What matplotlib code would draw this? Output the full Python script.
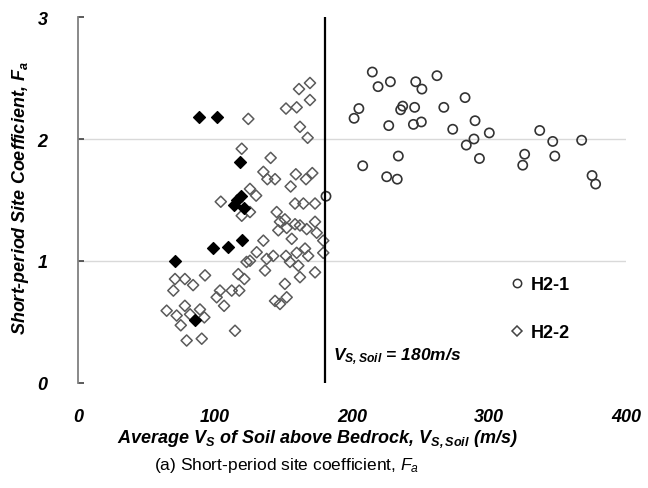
import matplotlib
matplotlib.use('Agg')
import matplotlib.pyplot as plt
from matplotlib.lines import Line2D

plt.rcParams['font.family'] = ['Liberation Sans', 'DejaVu Sans']
plt.rcParams['mathtext.fontset'] = 'custom'
plt.rcParams['mathtext.rm'] = 'Liberation Sans'
plt.rcParams['mathtext.it'] = 'Liberation Sans:italic'
plt.rcParams['mathtext.bf'] = 'Liberation Sans:bold'
plt.rcParams['mathtext.bfit'] = 'Liberation Sans:bold:italic'

# H2-1 sites (Vs,soil > 180 m/s)
h21_vs = [181, 214.8, 219, 228, 246.5, 251, 262, 282.5, 205, 201.5, 237, 235.5,
          245.7, 267, 226.8, 244.8, 250.6, 273.5, 289.8, 289, 283.4, 293, 233.8,
          207.8, 225.3, 233, 300.2, 337, 346.5, 367.6, 326, 324.6, 348, 375.2, 377.8]
h21_fa = [1.53, 2.55, 2.43, 2.47, 2.47, 2.41, 2.52, 2.34, 2.25, 2.17, 2.27, 2.24,
          2.26, 2.26, 2.11, 2.12, 2.14, 2.08, 2.15, 2.0, 1.95, 1.84, 1.86,
          1.78, 1.69, 1.67, 2.05, 2.07, 1.98, 1.99, 1.875, 1.785, 1.86, 1.70, 1.63]

# H2-2 sites (Vs,soil < 180 m/s)
h22_vs = [70.8, 78, 84, 69.6, 64.7, 72, 78, 75, 79.3, 81.8,
          92.7, 89, 92.2, 90.3, 103.6, 101.2, 106.6, 112.2, 117.7, 117, 121.4, 114.6, 123,
          124.3, 119.5, 140.6, 135.3, 138.2, 143.8, 155.2, 159, 166.4, 171, 125.5, 130,
          151.8, 159.6, 161.3, 169.3, 169.3, 162, 167.6,
          104.2, 119.5, 125.5, 158.4, 164.5, 173, 145, 147.4, 151, 146.2, 152.3, 158.4,
          162, 166.9, 173, 174.2, 179, 156, 135.3, 130.4, 125.5, 137.7, 142.5, 151.8,
          159.6, 165.7, 168, 160.8, 173, 162, 151, 143.8, 152.3, 147.4,
          154.7, 179, 136.5]
h22_fa = [0.85, 0.85, 0.80, 0.755, 0.59, 0.55, 0.63, 0.47, 0.345, 0.56,
          0.88, 0.60, 0.535, 0.36, 0.755, 0.70, 0.63, 0.755, 0.755, 0.89, 0.85, 0.425, 0.99,
          2.165, 1.92, 1.845, 1.73, 1.67, 1.67, 1.61, 1.71, 1.67, 1.72, 1.59, 1.535,
          2.25, 2.26, 2.41, 2.46, 2.32, 2.10, 2.01,
          1.485, 1.37, 1.40, 1.47, 1.47, 1.47, 1.40, 1.32, 1.34, 1.25, 1.27, 1.30,
          1.29, 1.26, 1.32, 1.23, 1.165, 1.18, 1.165, 1.07, 1.0, 1.015, 1.04, 1.04,
          1.065, 1.10, 1.04, 0.96, 0.905, 0.865, 0.81, 0.67, 0.70, 0.645,
          0.99, 1.065, 0.92]

# highlighted H2-2 sites (filled)
h22b_vs = [70.8, 85.4, 88.3, 101.7, 118, 116, 119, 114, 121, 98.8, 109.2, 119.5]
h22b_fa = [1.0, 0.51, 2.18, 2.18, 1.81, 1.50, 1.53, 1.46, 1.43, 1.105, 1.115, 1.17]

vs_limit = 180

fig = plt.figure(figsize=(6.48, 4.89), dpi=100)
ax = fig.add_axes([0.1204, 0.2157, 0.8457, 0.747])

ax.scatter(h22_vs, h22_fa, marker='D', s=32, facecolors='none',
           edgecolors='#5a5a5a', linewidths=1.1, zorder=3)
ax.scatter(h22b_vs, h22b_fa, marker='D', s=36, facecolors='black',
           edgecolors='black', linewidths=1.0, zorder=4)
ax.scatter(h21_vs, h21_fa, marker='o', s=44, facecolors='none',
           edgecolors='#333333', linewidths=1.2, zorder=3)

ax.axvline(vs_limit, color='black', lw=1.6, zorder=5)
ax.text(186, 0.22, r'$\mathbfit{V_{S,Soil}}$ = 180m/s', fontsize=12.5,
        fontweight='bold', fontstyle='italic', va='center', ha='left')

ax.set_xlim(0, 400)
ax.set_ylim(0, 3)
ax.set_xticks([0, 100, 200, 300, 400])
ax.set_yticks([0, 1, 2, 3])
for y in [1, 2]:
    ax.axhline(y, color='#d9d9d9', lw=1.0, zorder=1)

for s in ['top', 'right', 'bottom']:
    ax.spines[s].set_visible(False)
ax.spines['left'].set_color('#808080')
ax.spines['left'].set_linewidth(1.3)
ax.tick_params(axis='y', direction='in', length=4, width=1.2, color='#404040', pad=22)
ax.tick_params(axis='x', length=0, pad=18)
for lab in ax.get_xticklabels() + ax.get_yticklabels():
    lab.set_fontsize(13)
    lab.set_fontweight('bold')
    lab.set_fontstyle('italic')

handles = [
    Line2D([], [], marker='o', ls='none', ms=6, mfc='none', mec='#333333', mew=1.1),
    Line2D([], [], marker='D', ls='none', ms=4.8, mfc='none', mec='#444444', mew=1.1),
]
leg = ax.legend(handles, ['H2-1', 'H2-2'], loc='upper left',
                bbox_to_anchor=(0.752, 0.335), frameon=False,
                labelspacing=1.7, handletextpad=0.15, handlelength=1.2,
                prop={'weight': 'bold', 'size': 13})

fig.text(0.49, 0.103, r'Average $\mathbfit{V_S}$ of Soil above Bedrock, '
         r'$\mathbfit{V_{S,Soil}}$ (m/s)', fontsize=13, fontweight='bold',
         fontstyle='italic', ha='center', va='center')
fig.text(0.031, 0.595, r'Short-period Site Coefficient, $\mathbfit{F_a}$',
         fontsize=13, fontweight='bold', fontstyle='italic', rotation=90,
         ha='center', va='center')
fig.text(0.443, 0.049, r'(a) Short-period site coefficient, $F_a$',
         fontsize=12.5, ha='center', va='center')

fig.savefig('out.png', dpi=100)
